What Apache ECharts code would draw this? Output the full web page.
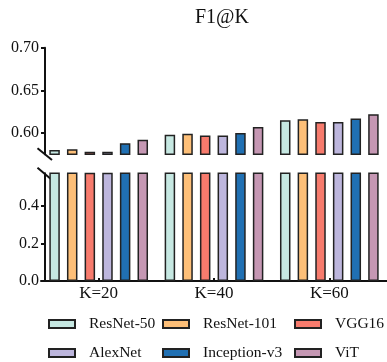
<!DOCTYPE html>
<html>
<head>
<meta charset="utf-8">
<script src="https://cdn.jsdelivr.net/npm/echarts@6/dist/echarts.min.js"></script>
<style>
  html, body { margin: 0; padding: 0; background: #fff; }
  #chart { width: 387px; height: 362px; }
</style>
</head>
<body>
<div id="chart"></div>
<script>
const categories = ['K=20', 'K=40', 'K=60'];
const modelNames = ['ResNet-50', 'ResNet-101', 'VGG16', 'AlexNet', 'Inception-v3', 'ViT'];
const resnet50 = [0.580, 0.598, 0.615];
const resnet101 = [0.581, 0.599, 0.616];
const vgg16 = [0.578, 0.597, 0.613];
const alexnet = [0.578, 0.597, 0.613];
const inceptionV3 = [0.588, 0.600, 0.617];
const vit = [0.592, 0.607, 0.622];
const upperTicks = [0.60, 0.65, 0.70];
const lowerTicks = [0.0, 0.2, 0.4];

const seriesValues = [resnet50, resnet101, vgg16, alexnet, inceptionV3, vit];
const colors = ['#c6e8e2', '#fdbf78', '#f77b6d', '#bdb6dd', '#2070b3', '#c597b3'];

const FONT = 'Liberation Serif';
const breakMin = 0.575; // axis break

const chart = echarts.init(document.getElementById('chart'), null, { renderer: 'canvas' });

// each model drawn twice: once in the lower panel, once in the upper one
const series = [];
[1, 0].forEach(function (panel) {
  modelNames.forEach(function (name, i) {
    series.push({
      name: name,
      type: 'bar',
      xAxisIndex: panel,
      yAxisIndex: panel,
      data: seriesValues[i],
      barWidth: 10.5,
      barGap: '68%',
      clip: true,
      itemStyle: { color: colors[i], borderColor: '#222', borderWidth: 1.5 },
      emphasis: { disabled: true },
      animation: false
    });
  });
});

// legend: 3 columns x 2 rows, one component per entry
const legendCols = [48, 162, 294];
const legendRows = [316, 345];
const legends = modelNames.map(function (name, i) {
  return {
    left: legendCols[i % 3],
    top: legendRows[Math.floor(i / 3)],
    data: [name],
    icon: 'rect',
    itemWidth: 26,
    itemHeight: 8,
    itemGap: 0,
    padding: 0,
    textStyle: { fontFamily: FONT, fontSize: 15.5, color: '#111', padding: [0, 0, 0, 9] },
    selectedMode: false
  };
});

const yAxisBase = {
  type: 'value',
  offset: -4,
  splitLine: { show: false },
  axisLine: { show: true, lineStyle: { color: '#111', width: 2 } },
  axisTick: { show: true, length: 4, lineStyle: { color: '#111', width: 2 } },
  axisLabel: { fontFamily: FONT, fontSize: 16, color: '#111', margin: 6 }
};

chart.setOption({
  backgroundColor: '#fff',
  title: {
    text: 'F1@K',
    left: 190,
    top: 3,
    textStyle: { fontFamily: FONT, fontSize: 20, fontWeight: 'normal', color: '#111' }
  },
  legend: legends,
  grid: [
    { left: 41, right: -8, top: 47.7, height: 106.6 },
    { left: 41, right: -8, top: 173.2, height: 107.8 }
  ],
  xAxis: [
    { type: 'category', gridIndex: 0, data: categories, show: false },
    {
      type: 'category',
      gridIndex: 1,
      data: categories,
      axisLine: { lineStyle: { color: '#111', width: 2 } },
      axisTick: { show: true, inside: true, alignWithLabel: true, length: 3, lineStyle: { color: '#111', width: 2 } },
      axisLabel: { fontFamily: FONT, fontSize: 17, color: '#111', margin: 4 }
    }
  ],
  yAxis: [
    Object.assign({}, yAxisBase, {
      gridIndex: 0,
      min: breakMin,
      max: 0.70,
      axisTick: Object.assign({}, yAxisBase.axisTick, { customValues: upperTicks }),
      axisLabel: Object.assign({}, yAxisBase.axisLabel, {
        customValues: upperTicks,
        formatter: function (v) { return v.toFixed(2); }
      })
    }),
    Object.assign({}, yAxisBase, {
      gridIndex: 1,
      min: 0,
      max: breakMin,
      axisTick: Object.assign({}, yAxisBase.axisTick, { customValues: lowerTicks }),
      axisLabel: Object.assign({}, yAxisBase.axisLabel, {
        customValues: lowerTicks,
        formatter: function (v) { return v.toFixed(1); }
      })
    })
  ],
  graphic: [
    // break marks on the y axis
    { type: 'line', shape: { x1: 37.5, y1: 148.3, x2: 52, y2: 160 }, style: { stroke: '#111', lineWidth: 2 } },
    { type: 'line', shape: { x1: 37.5, y1: 167.7, x2: 52, y2: 180 }, style: { stroke: '#111', lineWidth: 2 } }
  ],
  series: series
});
</script>
</body>
</html>
